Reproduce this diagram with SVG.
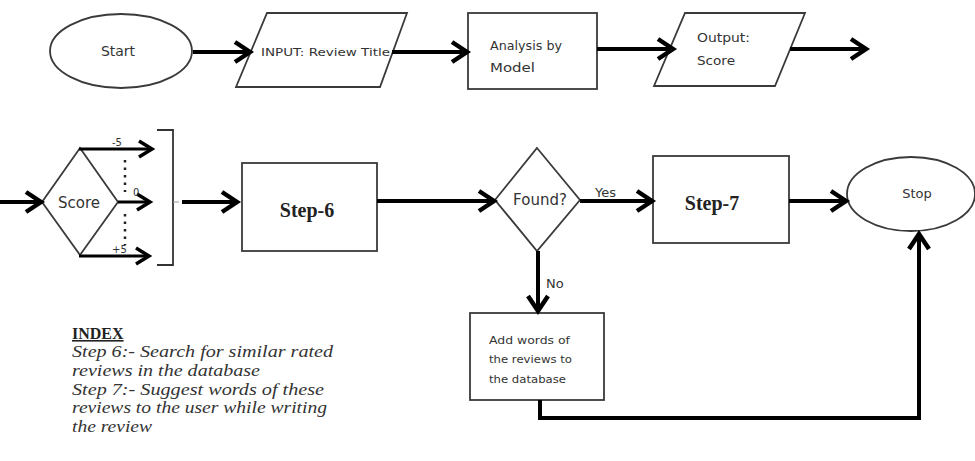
<svg xmlns="http://www.w3.org/2000/svg" width="975" height="461" viewBox="0 0 975 461">
<defs>
<style>
.shape{fill:#fff;stroke:#3a3a3a;stroke-width:1.8}
.conn{fill:none;stroke:#000;stroke-width:4}
.thin{fill:none;stroke:#000;stroke-width:3}
.sans{font-family:"DejaVu Sans","Liberation Sans",sans-serif;fill:#333}
.serif{font-family:"Liberation Serif","DejaVu Serif",serif;fill:#222}
.idx{font-family:"Liberation Serif","DejaVu Serif",serif;fill:#333;font-style:italic;font-size:16px}
</style>
<marker id="arr" markerUnits="userSpaceOnUse" markerWidth="30" markerHeight="30" viewBox="-20 -15 30 30" refX="0" refY="0" orient="auto">
<path d="M-15,-10 L0,0 L-15,10" fill="none" stroke="#000" stroke-width="4.5"/>
</marker>
<marker id="arrS" markerUnits="userSpaceOnUse" markerWidth="30" markerHeight="30" viewBox="-20 -15 30 30" refX="0" refY="0" orient="auto">
<path d="M-13,-8 L0,0 L-13,8" fill="none" stroke="#000" stroke-width="3.5"/>
</marker>
</defs>
<rect width="975" height="461" fill="#fff"/>

<g id="start">
<ellipse class="shape" cx="121" cy="51" rx="71" ry="37"/>
<text class="sans" x="118" y="56" font-size="14" text-anchor="middle">Start</text>
</g>
<g id="input">
<polygon class="shape" points="267,13 407,13 380,87 236,87"/>
<text class="sans" x="261" y="56" font-size="11" textLength="129" lengthAdjust="spacingAndGlyphs">INPUT: Review Title</text>
</g>
<g id="analysis">
<rect class="shape" x="468" y="13" width="129" height="76"/>
<text class="sans" x="490" y="50" font-size="11.5" textLength="72" lengthAdjust="spacingAndGlyphs">Analysis by</text>
<text class="sans" x="490" y="72" font-size="11.5" textLength="45" lengthAdjust="spacingAndGlyphs">Model</text>
</g>
<g id="output">
<polygon class="shape" points="685,13 805,13 775,86 654,86"/>
<text class="sans" x="697" y="42" font-size="12" textLength="53" lengthAdjust="spacingAndGlyphs">Output:</text>
<text class="sans" x="697" y="65" font-size="12" textLength="38" lengthAdjust="spacingAndGlyphs">Score</text>
</g>

<g id="score">
<polygon class="shape" points="80,148 118,202 80,255 42,202"/>
<text class="sans" x="79" y="208" font-size="15" text-anchor="middle" fill="#444">Score</text>
</g>
<g id="bracket">
<path d="M157,130 L173,130 L173,265 L157,265" fill="none" stroke="#333" stroke-width="1.8"/>
<path d="M173,202 L179,202" fill="none" stroke="#999" stroke-width="1"/>
</g>
<g id="step6">
<rect class="shape" x="242" y="163" width="135" height="88"/>
<text class="serif" x="307" y="217" font-size="20" font-weight="bold" text-anchor="middle">Step-6</text>
</g>
<g id="found">
<polygon class="shape" points="537,148 580,200 537,251 495,200"/>
<text class="sans" x="540" y="205" font-size="15" text-anchor="middle">Found?</text>
</g>
<g id="step7">
<rect class="shape" x="653" y="156" width="136" height="87"/>
<text class="serif" x="712" y="210" font-size="20" font-weight="bold" text-anchor="middle">Step-7</text>
</g>
<g id="stop">
<ellipse class="shape" cx="911" cy="194" rx="64" ry="37"/>
<text class="sans" x="917" y="198" font-size="13" text-anchor="middle">Stop</text>
</g>
<g id="addwords">
<rect class="shape" x="470" y="313" width="134" height="87"/>
<text class="sans" x="489" y="344" font-size="11" textLength="81" lengthAdjust="spacingAndGlyphs">Add words of</text>
<text class="sans" x="489" y="363" font-size="11" textLength="83" lengthAdjust="spacingAndGlyphs">the reviews to</text>
<text class="sans" x="489" y="383" font-size="11" textLength="77" lengthAdjust="spacingAndGlyphs">the database</text>
</g>

<g id="connectors">
<path class="conn" d="M193,52 L250,52" marker-end="url(#arr)"/>
<path class="conn" d="M392,52 L467,52" marker-end="url(#arr)"/>
<path class="conn" d="M597,49 L673,49" marker-end="url(#arr)"/>
<path class="conn" d="M790,49 L866,49" marker-end="url(#arr)"/>
<path class="conn" d="M0,202 L41,202" marker-end="url(#arr)"/>
<path class="thin" d="M79,149 L152,149" marker-end="url(#arrS)"/>
<path class="thin" d="M118,202 L150,202" marker-end="url(#arrS)"/>
<path class="thin" d="M79,256 L149,256" marker-end="url(#arrS)"/>
<path d="M125,160 L125,192 M125,214 L125,245" fill="none" stroke="#222" stroke-width="2.5" stroke-dasharray="2.5,5"/>
<path class="conn" d="M182,202 L237,202" marker-end="url(#arr)"/>
<path class="conn" d="M377,201 L494,201" marker-end="url(#arr)"/>
<path class="conn" d="M580,201 L652,201" marker-end="url(#arr)"/>
<path class="conn" d="M789,201 L846,201" marker-end="url(#arr)"/>
<path class="conn" d="M538,251 L538,311" marker-end="url(#arr)"/>
<path class="conn" d="M540,400 L540,418 L919,418 L919,234" marker-end="url(#arr)"/>
</g>

<g id="labels">
<text class="sans" x="112" y="146" font-size="10">-5</text>
<text class="sans" x="133" y="196" font-size="10">0</text>
<text class="sans" x="112" y="253" font-size="10">+5</text>
<text class="sans" x="595" y="197" font-size="13">Yes</text>
<text class="sans" x="546" y="288" font-size="13">No</text>
</g>

<g id="index">
<text class="serif" x="72" y="339" font-size="16" font-weight="bold" text-decoration="underline">INDEX</text>
<text class="idx" x="72" y="357" textLength="261" lengthAdjust="spacingAndGlyphs">Step 6:- Search for similar rated</text>
<text class="idx" x="72" y="376" textLength="188" lengthAdjust="spacingAndGlyphs">reviews in the database</text>
<text class="idx" x="72" y="395" textLength="252" lengthAdjust="spacingAndGlyphs">Step 7:- Suggest words of these</text>
<text class="idx" x="72" y="413" textLength="255" lengthAdjust="spacingAndGlyphs">reviews to the user while writing</text>
<text class="idx" x="72" y="432" textLength="80" lengthAdjust="spacingAndGlyphs">the review</text>
</g>
</svg>
